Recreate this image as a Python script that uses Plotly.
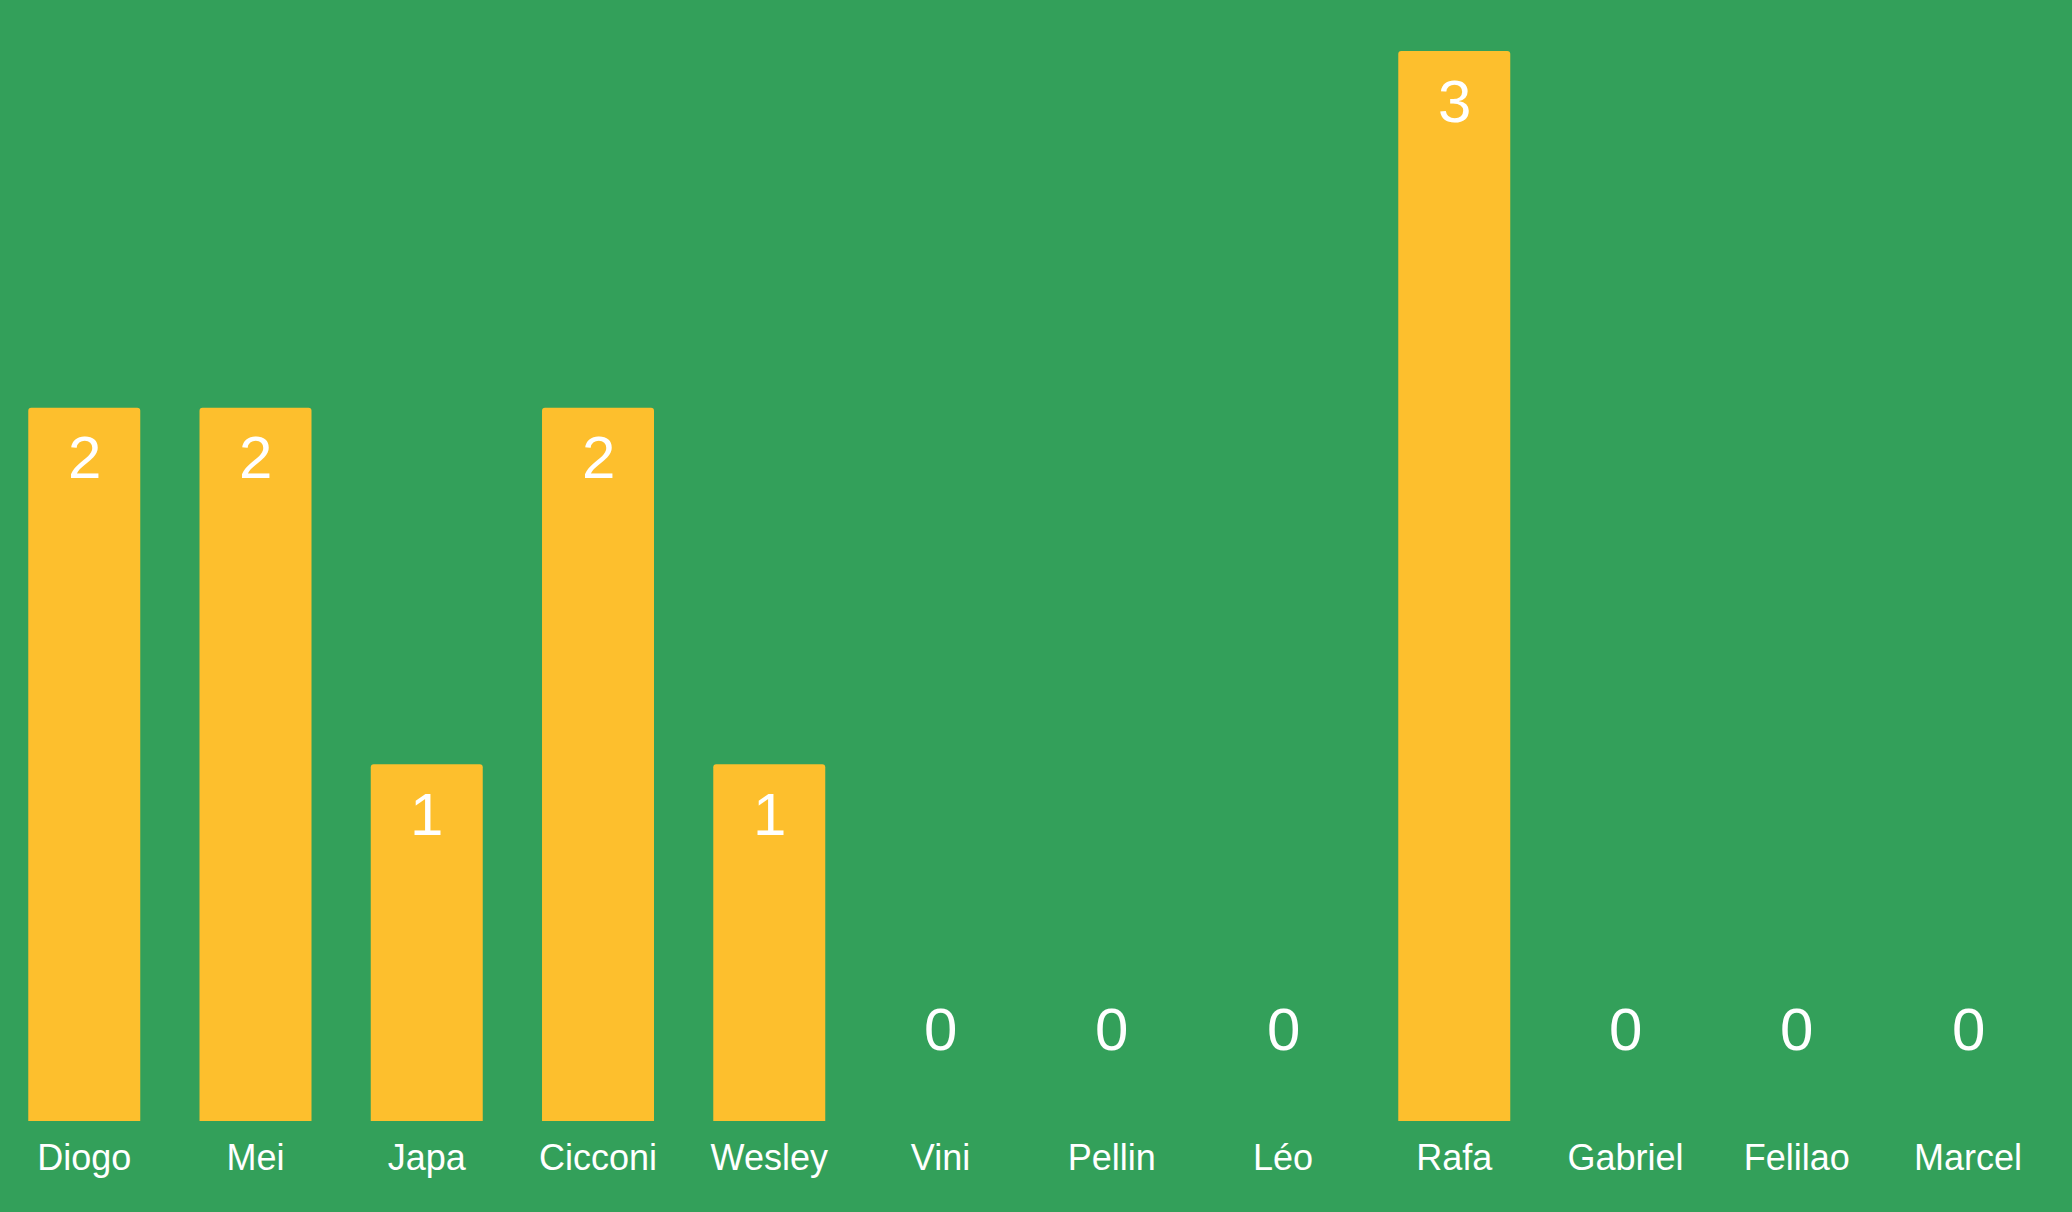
import plotly.graph_objects as go

players = ["Diogo", "Mei", "Japa", "Cicconi", "Wesley", "Vini", "Pellin", "Léo", "Rafa", "Gabriel", "Felilao", "Marcel"]
goals = [2, 2, 1, 2, 1, 0, 0, 0, 3, 0, 0, 0]

GREEN = "#33A05A"
YELLOW = "#FDBF2D"
FONT = "Liberation Sans, Arial, Helvetica, sans-serif"

fig = go.Figure()
fig.add_trace(
    go.Bar(
        x=players,
        y=goals,
        marker={"color": YELLOW, "line": {"width": 0}},
        hoverinfo="skip",
    )
)

# value labels: inside the top of the bar, or floating above the baseline when zero
for name, value in zip(players, goals):
    fig.add_annotation(
        x=name,
        y=value,
        text=str(value),
        showarrow=False,
        yanchor="middle",
        yshift=-50 if value > 0 else 92,
        font={"family": FONT, "size": 60, "color": "white"},
    )

fig.update_layout(
    width=2072,
    height=1212,
    margin={"l": 0, "r": 17, "t": 0, "b": 91},
    paper_bgcolor=GREEN,
    plot_bgcolor=GREEN,
    bargap=0.346,
    barcornerradius=3,
    showlegend=False,
    font={"family": FONT, "color": "white"},
)
fig.update_xaxes(
    range=[-0.492, 11.508],
    showgrid=False,
    zeroline=False,
    showline=False,
    ticks="",
    tickfont={"family": FONT, "size": 36, "color": "white"},
    ticklabelstandoff=12,
)
fig.update_yaxes(visible=False, range=[0, 3.143], showgrid=False, zeroline=False)

fig.write_html(
    "out.html",
    config={"displayModeBar": False},
    post_script="document.body.style.margin='0';document.body.style.background='" + GREEN + "';",
)
